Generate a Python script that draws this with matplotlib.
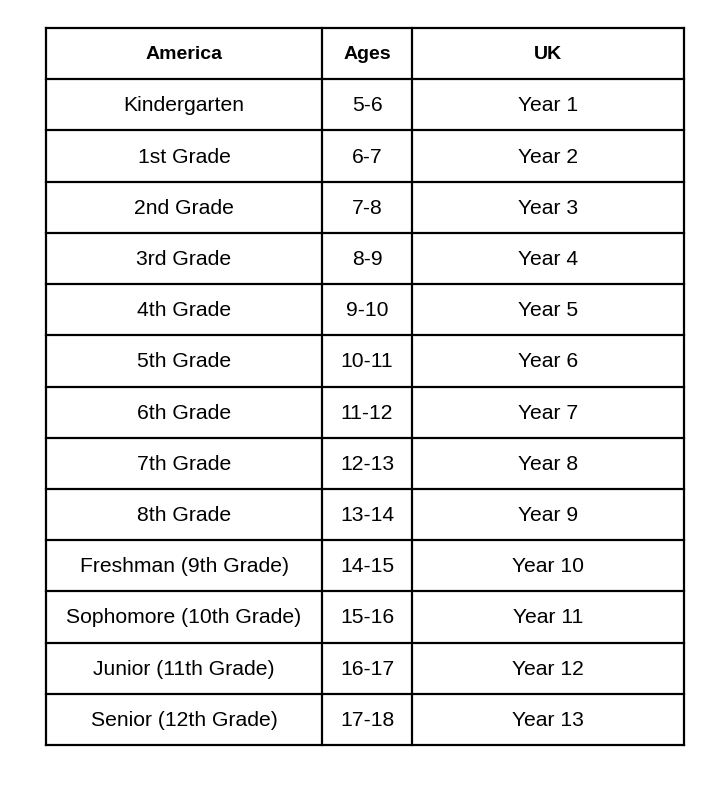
import matplotlib.pyplot as plt

headers = ["America", "Ages", "UK"]
america = ["Kindergarten", "1st Grade", "2nd Grade", "3rd Grade", "4th Grade",
           "5th Grade", "6th Grade", "7th Grade", "8th Grade",
           "Freshman (9th Grade)", "Sophomore (10th Grade)",
           "Junior (11th Grade)", "Senior (12th Grade)"]
ages = ["5-6", "6-7", "7-8", "8-9", "9-10", "10-11", "11-12", "12-13",
        "13-14", "14-15", "15-16", "16-17", "17-18"]
uk = ["Year %d" % i for i in range(1, 14)]

col_edges = [46, 322, 412, 684]
top, bottom = 28, 745

plt.rcParams['font.family'] = ['Liberation Sans', 'DejaVu Sans']
fig = plt.figure(figsize=(7.2, 7.97), dpi=100)
ax = fig.add_axes([0, 0, 1, 1])
ax.set_xlim(0, 720)
ax.set_ylim(797, 0)
ax.axis('off')

rows = [headers] + list(zip(america, ages, uk))
n = len(rows)
h = (bottom - top) / n
for i in range(n + 1):
    ax.plot([col_edges[0], col_edges[-1]], [top + i * h] * 2, color='black', lw=1.6)
for x in col_edges:
    ax.plot([x, x], [top, bottom], color='black', lw=1.6)

for i, row in enumerate(rows):
    y = top + (i + 0.5) * h + 1
    for j, txt in enumerate(row):
        x = (col_edges[j] + col_edges[j + 1]) / 2
        ax.text(x, y, txt, ha='center', va='center',
                fontsize=14 if i == 0 else 15.2,
                fontweight='bold' if i == 0 else 'normal')

fig.savefig('out.png', dpi=100)
